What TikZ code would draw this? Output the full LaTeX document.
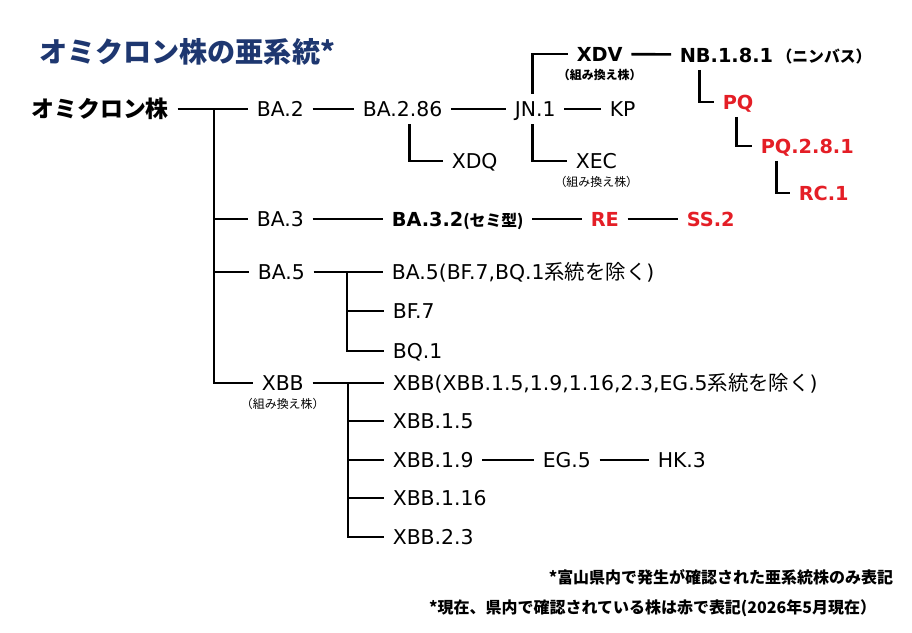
\documentclass[tikz,border=0pt]{standalone}
\usepackage{fontspec}
\setmainfont{DejaVu Sans}
\newfontfamily\jp{Noto Sans CJK JP}
\usetikzlibrary{positioning}
\definecolor{titleblue}{RGB}{30,55,112}
\definecolor{foundred}{RGB}{228,30,38}
\newcommand\regsize{\fontsize{11.6pt}{14pt}\selectfont}
\newcommand\boldsize{\fontsize{11pt}{13pt}\selectfont\bfseries}
\newcommand\recsize{\jp\fontsize{6.8pt}{8pt}\selectfont}

\begin{document}
\begin{tikzpicture}[x=0.02cm, y=-0.02cm, line width=1.5pt,
    every node/.style={inner sep=0pt, outer sep=0pt},
    strain/.style={anchor=west, font=\regsize, text height=8.5pt, text depth=0pt, outer xsep=5pt, outer ysep=4.5pt},
    bstrain/.style={strain, font=\boldsize, text height=8pt},
    found/.style={bstrain, text=foundred},
    recomb/.style={font=\recsize},
    note/.style={anchor=east, font=\jp\bfseries\fontsize{9.1pt}{11pt}\selectfont}]
    \useasboundingbox (0,0) rectangle (912,632);

    \node [anchor=west, text=titleblue, font=\jp\bfseries\fontsize{16pt}{18pt}\selectfont] (title) at (39,52) {オミクロン株の亜系統*};
    \node [bstrain, font=\jp\bfseries\fontsize{13pt}{15pt}\selectfont, text height=9.6pt] (omicron) at (23,109) {オミクロン株};

    % BA.2 line
    \node [strain] (BA2) at (248,109) {BA.2};
    \node [strain] (BA286) at (354,109) {BA.2.86};
    \node [strain] (JN1) at (506,109) {JN.1};
    \node [strain] (KP) at (601,109) {KP};
    \node [strain] (XDQ) at (443,161) {XDQ};
    \node [strain] (XEC) at (567,161) {XEC};
    \node [recomb, below=0pt of XEC] (XECsub) {（組み換え株）};
    \node [bstrain] (XDV) at (568,54) {XDV};
    \node [recomb, below=0pt of XDV] (XDVsub) {\bfseries（組み換え株）};
    \node [bstrain] (NB181) at (671,55) {NB.1.8.1\hspace{2pt}{\jp\fontsize{9pt}{10pt}\selectfont（ニンバス）}};
    \node [found] (PQ) at (714,102) {PQ};
    \node [found] (PQ281) at (752,146) {PQ.2.8.1};
    \node [found] (RC1) at (790,193) {RC.1};

    % BA.3 line
    \node [strain] (BA3) at (248,219) {BA.3};
    \node [bstrain] (BA32) at (383,219) {BA.3.2{\jp\fontsize{9pt}{11pt}\selectfont (セミ型)}};
    \node [found] (RE) at (582,219) {RE};
    \node [found] (SS2) at (678,219) {SS.2};

    % BA.5 line
    \node [strain] (BA5) at (249,272) {BA.5};
    \node [strain] (BA5rest) at (383,272) {BA.5(BF.7,BQ.1{\jp 系統を除く})};
    \node [strain] (BF7) at (384,311) {BF.7};
    \node [strain] (BQ1) at (384,351) {BQ.1};

    % XBB line
    \node [strain] (XBB) at (253,383) {XBB};
    \node [recomb, below=0pt of XBB] (XBBsub) {（組み換え株）};
    \node [strain] (XBBrest) at (384,383) {XBB(XBB.1.5,1.9,1.16,2.3,EG.5{\jp 系統を除く})};
    \node [strain] (XBB15) at (384,421) {XBB.1.5};
    \node [strain] (XBB19) at (384,460) {XBB.1.9};
    \node [strain] (EG5) at (534,460) {EG.5};
    \node [strain] (HK3) at (649,460) {HK.3};
    \node [strain] (XBB116) at (384,498) {XBB.1.16};
    \node [strain] (XBB23) at (384,537) {XBB.2.3};

    \node [note] (note1) at (893,577) {*富山県内で発生が確認された亜系統株のみ表記};
    \node [note] (note2) at (876,608) {*現在、県内で確認されている株は赤で表記(2026年5月現在）};

    \coordinate (trunk) at (214,109);
    \coordinate (BA5fork) at (347,272);
    \coordinate (XBBfork) at (348,383);

    \draw (omicron) -- (BA2);
    \draw (trunk) |- (BA3);
    \draw (trunk) |- (BA5);
    \draw (trunk) |- (XBB);

    \draw (BA2) -- (BA286);
    \draw (BA286) -- (JN1);
    \draw (JN1) -- (KP);
    \draw ([xshift=4pt]BA286.south) |- (XDQ);
    \draw ([xshift=-1.4pt]JN1.north) |- (XDV);
    \draw ([xshift=-1.4pt]JN1.south) |- (XEC);
    \draw (XDV) -- (NB181);
    \draw ([xshift=16.3pt]NB181.south west) |- (PQ);
    \draw ([xshift=-0.8pt]PQ.south) |- (PQ281);
    \draw ([xshift=-17.4pt]PQ281.south) |- (RC1);

    \draw (BA3) -- (BA32);
    \draw (BA32) -- (RE);
    \draw (RE) -- (SS2);

    \draw (BA5) -- (BA5rest);
    \draw (BA5fork) |- (BF7);
    \draw (BA5fork) |- (BQ1);

    \draw (XBB) -- (XBBrest);
    \draw (XBBfork) |- (XBB15);
    \draw (XBBfork) |- (XBB19);
    \draw (XBBfork) |- (XBB116);
    \draw (XBBfork) |- (XBB23);
    \draw (XBB19) -- (EG5);
    \draw (EG5) -- (HK3);
\end{tikzpicture}
\end{document}
